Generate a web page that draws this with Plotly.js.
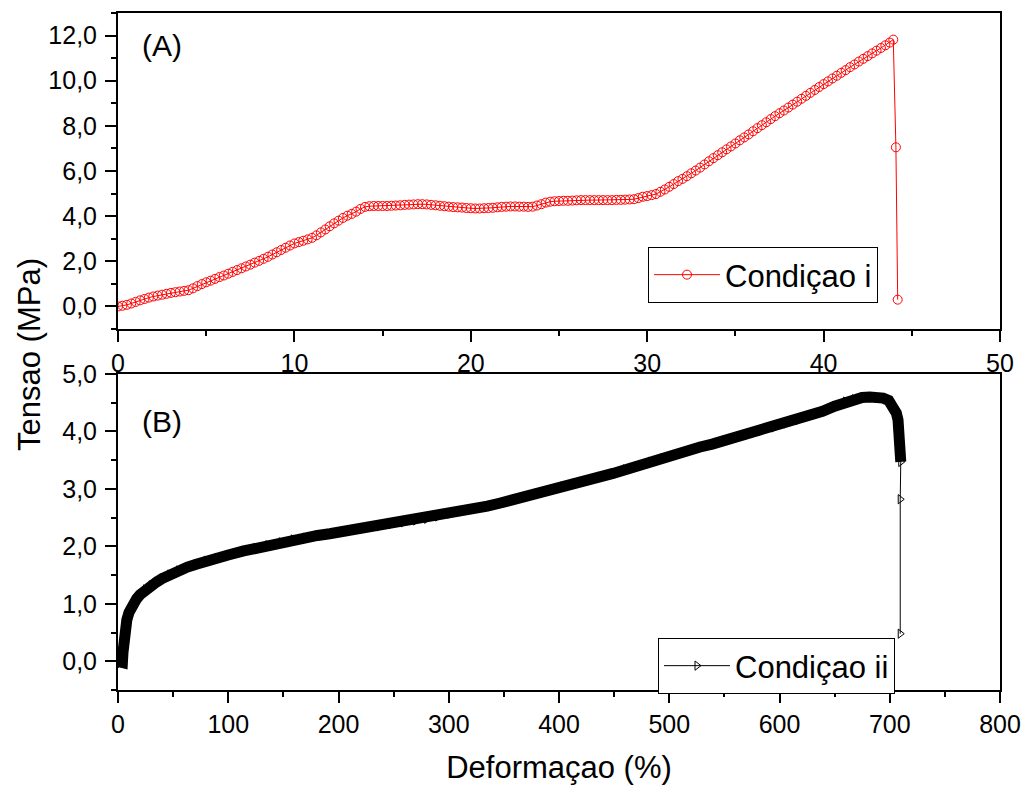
<!DOCTYPE html>
<html>
<head>
<meta charset="utf-8">
<script src="https://cdn.plot.ly/plotly-3.0.1.min.js"></script>
<style>html,body{margin:0;padding:0;background:#fff;}#chart{width:1023px;height:785px;}</style>
</head>
<body>
<div id="chart"></div>
<script>
// ---- Data ----
const strainA = [0,0.25,0.5,0.75,1,1.25,1.5,1.75,2,2.25,2.5,2.75,3,3.25,3.5,3.75,4,4.25,4.5,4.75,5,5.25,5.5,5.75,6,6.25,6.5,6.75,7,7.25,7.5,7.75,8,8.25,8.5,8.75,9,9.25,9.5,9.75,10,10.25,10.5,10.75,11,11.25,11.5,11.75,12,12.25,12.5,12.75,13,13.25,13.5,13.75,14,14.25,14.5,14.75,15,15.25,15.5,15.75,16,16.25,16.5,16.75,17,17.25,17.5,17.75,18,18.25,18.5,18.75,19,19.25,19.5,19.75,20,20.25,20.5,20.75,21,21.25,21.5,21.75,22,22.25,22.5,22.75,23,23.25,23.5,23.75,24,24.25,24.5,24.75,25,25.25,25.5,25.75,26,26.25,26.5,26.75,27,27.25,27.5,27.75,28,28.25,28.5,28.75,29,29.25,29.5,29.75,30,30.25,30.5,30.75,31,31.25,31.5,31.75,32,32.25,32.5,32.75,33,33.25,33.5,33.75,34,34.25,34.5,34.75,35,35.25,35.5,35.75,36,36.25,36.5,36.75,37,37.25,37.5,37.75,38,38.25,38.5,38.75,39,39.25,39.5,39.75,40,40.25,40.5,40.75,41,41.25,41.5,41.75,42,42.25,42.5,42.75,43,43.25,43.5,43.75,43.95,44.1,44.2];
const stressA = [0.00,0.03,0.07,0.13,0.20,0.27,0.33,0.39,0.44,0.48,0.52,0.56,0.60,0.63,0.66,0.69,0.72,0.80,0.90,0.99,1.07,1.14,1.22,1.30,1.37,1.45,1.53,1.61,1.69,1.77,1.85,1.94,2.02,2.11,2.20,2.30,2.40,2.50,2.60,2.70,2.79,2.85,2.91,2.97,3.04,3.15,3.28,3.41,3.55,3.68,3.80,3.92,4.02,4.10,4.20,4.32,4.41,4.44,4.45,4.45,4.45,4.45,4.46,4.47,4.48,4.50,4.51,4.52,4.53,4.53,4.52,4.50,4.48,4.46,4.44,4.42,4.40,4.39,4.38,4.36,4.35,4.34,4.34,4.35,4.36,4.37,4.39,4.41,4.42,4.43,4.43,4.42,4.42,4.41,4.42,4.47,4.53,4.60,4.64,4.66,4.67,4.68,4.68,4.69,4.70,4.71,4.71,4.71,4.71,4.71,4.71,4.71,4.71,4.72,4.72,4.73,4.74,4.75,4.80,4.86,4.89,4.93,4.98,5.08,5.18,5.30,5.42,5.55,5.65,5.77,5.90,6.02,6.15,6.29,6.43,6.57,6.70,6.83,6.96,7.09,7.22,7.36,7.49,7.62,7.76,7.90,8.03,8.16,8.30,8.43,8.56,8.68,8.81,8.94,9.07,9.20,9.33,9.46,9.59,9.72,9.85,9.97,10.10,10.22,10.35,10.47,10.60,10.72,10.85,10.97,11.09,11.21,11.33,11.45,11.57,11.69,11.82,7.05,0.30];

const strainB = [0,2,4,4.5,5,5.5,6,7,8,10,12,14,17,20,25,30,35,40,47,55,63,71,80,90,100,114,125,136,148,159,170,181,192,204,215,226,237,248,259,270,280,290,301,312,323,335,346,357,369,380,392,403,414,426,437,449,460,471,483,494,505,517,528,539,550,561,572,583,595,606,617,628,639,650,660,668,675,682,688,694,699,703,706,707.5,708.5,709,709.5,710,710,709.5,709.5];
const stressB = [0.00,-0.03,-0.02,0.15,0.30,0.42,0.52,0.63,0.72,0.85,0.94,1.01,1.09,1.16,1.25,1.32,1.38,1.44,1.51,1.58,1.64,1.69,1.75,1.80,1.85,1.92,1.97,2.02,2.07,2.12,2.15,2.19,2.22,2.26,2.29,2.32,2.35,2.39,2.42,2.45,2.48,2.52,2.57,2.61,2.65,2.70,2.75,2.80,2.86,2.92,2.98,3.04,3.09,3.15,3.21,3.27,3.34,3.40,3.47,3.53,3.59,3.66,3.73,3.78,3.84,3.89,3.95,4.01,4.07,4.14,4.20,4.27,4.35,4.44,4.52,4.56,4.59,4.60,4.60,4.58,4.54,4.45,4.32,4.20,4.05,3.90,3.75,3.60,3.47,2.82,0.48];
const denseCountB = 89; // number of densely-sampled points (before the final drop)

const labelA = 'Condiçao i';
const labelB = 'Condiçao ii';
const xTitle = 'Deformaçao (%)';
const yTitle = 'Tensao (MPa)';

// ---- Layout geometry (pixels) ----
const W = 1023, H = 785;
const fx = p => p / W;
const fy = p => 1 - p / H;
const FONT = 'Liberation Sans, Arial, Helvetica, sans-serif';

const traces = [
  {
    x: strainA, y: stressA, xaxis: 'x', yaxis: 'y',
    mode: 'lines+markers', name: labelA, legend: 'legend',
    line: {color: '#ff0000', width: 1},
    marker: {symbol: 'circle-open', size: 9, color: '#ff0000', line: {color: '#ff0000', width: 1}}
  },
  {
    x: strainB.slice(0, denseCountB), y: stressB.slice(0, denseCountB), xaxis: 'x2', yaxis: 'y2',
    mode: 'lines', showlegend: false, hoverinfo: 'skip',
    line: {color: '#000000', width: 11}
  },
  {
    x: strainB, y: stressB, xaxis: 'x2', yaxis: 'y2',
    mode: 'lines+markers', name: labelB, legend: 'legend2',
    line: {color: '#000000', width: 1},
    marker: {symbol: 'triangle-right-open', size: 8, color: '#000000', line: {color: '#000000', width: 1}}
  }
];

const axBase = {
  showline: true, linecolor: '#000', linewidth: 2, mirror: true,
  showgrid: false, zeroline: false,
  ticks: 'outside', ticklen: 11, tickwidth: 2, tickcolor: '#000',
  tickfont: {family: FONT, size: 25, color: '#000'},
  automargin: false, fixedrange: true
};

const layout = {
  width: W, height: H,
  margin: {l: 0, r: 0, t: 0, b: 0},
  paper_bgcolor: '#fff', plot_bgcolor: '#fff',
  separators: ',.',
  font: {family: FONT, color: '#000'},
  xaxis: Object.assign({}, axBase, {
    domain: [fx(118), fx(1000)], range: [0, 50], dtick: 10, tick0: 0, anchor: 'y',
    minor: {dtick: 5, ticklen: 5, tickwidth: 2, tickcolor: '#000', ticks: 'outside'}
  }),
  yaxis: Object.assign({}, axBase, {
    domain: [fy(329), fy(13)], range: [-1, 13], dtick: 2, tick0: 0, tickformat: '.1f', anchor: 'x',
    ticklabelstandoff: 3,
    minor: {dtick: 1, ticklen: 5, tickwidth: 2, tickcolor: '#000', ticks: 'outside'}
  }),
  xaxis2: Object.assign({}, axBase, {
    domain: [fx(118), fx(1000)], range: [0, 800], dtick: 100, tick0: 0, anchor: 'y2',
    minor: {dtick: 50, ticklen: 5, tickwidth: 2, tickcolor: '#000', ticks: 'outside'},
    title: {text: xTitle, font: {family: FONT, size: 31, color: '#000'}, standoff: 20}
  }),
  yaxis2: Object.assign({}, axBase, {
    domain: [fy(690), fy(374)], range: [-0.5, 5], dtick: 1, tick0: 0, tickformat: '.1f', anchor: 'x2',
    ticklabelstandoff: 3,
    minor: {dtick: 0.5, ticklen: 5, tickwidth: 2, tickcolor: '#000', ticks: 'outside'}
  }),
  legend: {
    x: fx(648), y: fy(275), xanchor: 'left', yanchor: 'middle',
    bgcolor: '#fff', bordercolor: '#000', borderwidth: 1,
    font: {family: FONT, size: 31, color: '#000'}, itemwidth: 66, tracegroupgap: 0
  },
  legend2: {
    x: fx(658), y: fy(666), xanchor: 'left', yanchor: 'middle',
    bgcolor: '#fff', bordercolor: '#000', borderwidth: 1,
    font: {family: FONT, size: 31, color: '#000'}, itemwidth: 66, tracegroupgap: 0
  },
  annotations: [
    {text: '(A)', xref: 'paper', yref: 'paper', x: fx(162), y: fy(46), xanchor: 'center', yanchor: 'middle', showarrow: false, font: {family: FONT, size: 30, color: '#000'}},
    {text: '(B)', xref: 'paper', yref: 'paper', x: fx(162), y: fy(421), xanchor: 'center', yanchor: 'middle', showarrow: false, font: {family: FONT, size: 30, color: '#000'}},
    {text: yTitle, xref: 'paper', yref: 'paper', x: fx(29), y: fy(355), xanchor: 'center', yanchor: 'middle', textangle: -90, showarrow: false, font: {family: FONT, size: 31, color: '#000'}}
  ],
  showlegend: true
};

Plotly.newPlot('chart', traces, layout, {staticPlot: true, displayModeBar: false});
</script>
</body>
</html>
